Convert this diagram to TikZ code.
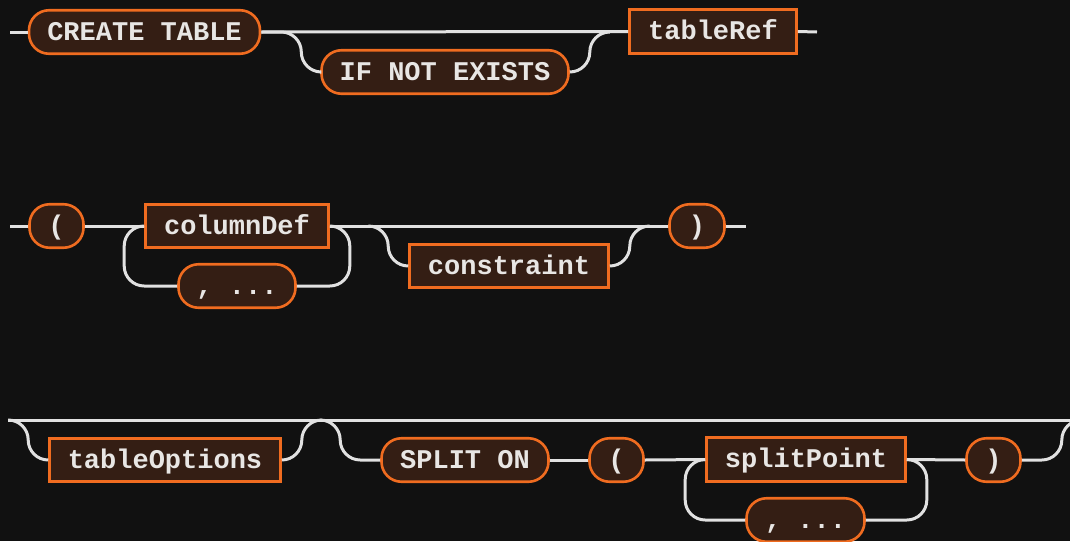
\documentclass[tikz,border=0pt]{standalone}
\usepackage{fontspec}
\setmonofont{Liberation Mono}
\usetikzlibrary{calc}
\definecolor{bg}{RGB}{17,17,17}
\definecolor{nodefill}{RGB}{52,30,20}
\definecolor{nodeline}{RGB}{240,108,32}
\definecolor{wirecol}{RGB}{225,225,225}
\definecolor{txt}{RGB}{232,230,228}
\begin{document}
\begin{tikzpicture}[x=1pt,y=-1pt,
 base/.style={draw=nodeline, fill=nodefill, line width=2.6pt, text=txt,
   font=\ttfamily\bfseries\fontsize{27}{27}\selectfont, inner sep=0pt,
   minimum height=43.5pt, text height=18pt, text depth=2pt, anchor=center},
 term/.style={base, rounded corners=20pt},
 nonterm/.style={base},
 railwire/.style={draw=wirecol, line width=3pt},
 railcurve/.style={railwire, rounded corners=20pt}]
\path[use as bounding box] (0,0) rectangle (1070,541);
\fill[bg] (0,0) rectangle (1070,541);
\clip (0,0) rectangle (1070,541);

% Row 1
\node[term] (ct) at (144.5,32) [minimum width=231pt] {CREATE TABLE};
\node[term] (ine) at (445,72) [minimum width=247pt] {IF NOT EXISTS};
\node[nonterm] (tref) at (713,31.5) [minimum width=167pt] {tableRef};
\coordinate (s1) at (10,32);
\coordinate (e1) at (817,32);
\draw[railwire] (s1) -- (ct.west);
\draw[railwire] (ct.east) -- (tref.west);
\draw[railwire] (tref.east) -- (e1);
\draw[railcurve] (ct.east) -- ++(40,0) |- (ine.west);
\draw[railcurve] (ine.east) -- ++(20,0) |- ++(20,-40);

% Row 2
\node[term] (lp1) at (56.5,226) [minimum width=54pt] {(};
\node[nonterm] (cdef) at (237,226) [minimum width=183pt] {columnDef};
\node[term] (rep1) at (237,286) [minimum width=117pt] {, ...};
\node[nonterm] (cons) at (509,266) [minimum width=199pt] {constraint};
\node[term] (rp1) at (697,226) [minimum width=55pt] {)};
\coordinate (s2) at (10,226);
\coordinate (e2) at (746,226);
\draw[railwire] (s2) -- (lp1.west);
\draw[railwire] (lp1.east) -- (cdef.west);
\draw[railwire] (cdef.east) -- (rp1.west);
\draw[railwire] (rp1.east) -- (e2);
\draw[railcurve] (cdef.west) -- ++(-20,0) |- (rep1.west);
\draw[railcurve] (cdef.east) -- ++(20,0) |- (rep1.east);
\draw[railcurve] (cons.west) -- ++(-20,0) |- ++(-20,-40);
\draw[railcurve] (cons.east) -- ++(20,0) |- ++(20,-40);

% Row 3
\node[nonterm] (topt) at (165,460) [minimum width=231pt] {tableOptions};
\node[term] (split) at (465,460) [minimum width=167pt] {SPLIT ON};
\node[term] (lp2) at (616.5,460) [minimum width=54pt] {(};
\node[nonterm] (sp) at (806,459.5) [minimum width=199pt] {splitPoint};
\node[term] (rep2) at (805.5,520) [minimum width=118pt] {, ...};
\node[term] (rp2) at (993.5,460) [minimum width=54pt] {)};
\coordinate (s3) at (8,420);
\coordinate (e3) at (1090,420);
\draw[railwire] (s3) -- (e3);
\draw[railcurve] (topt.west) -- ++(-20,0) |- (s3);
\draw[railcurve] (topt.east) -- ++(20,0) |- ++(20,-40);
\draw[railcurve] (split.west) -- ++(-40,0) |- ++(-20,-40);
\draw[railwire] (split.east) -- (lp2.west);
\draw[railwire] (lp2.east) -- (sp.west);
\draw[railwire] (sp.east) -- (rp2.west);
\draw[railcurve] (sp.west) -- ++(-20,0) |- (rep2.west);
\draw[railcurve] (sp.east) -- ++(20,0) |- (rep2.east);
\draw[railcurve] (rp2.east) -- ++(40,0) |- ++(20,-40);
\end{tikzpicture}
\end{document}
